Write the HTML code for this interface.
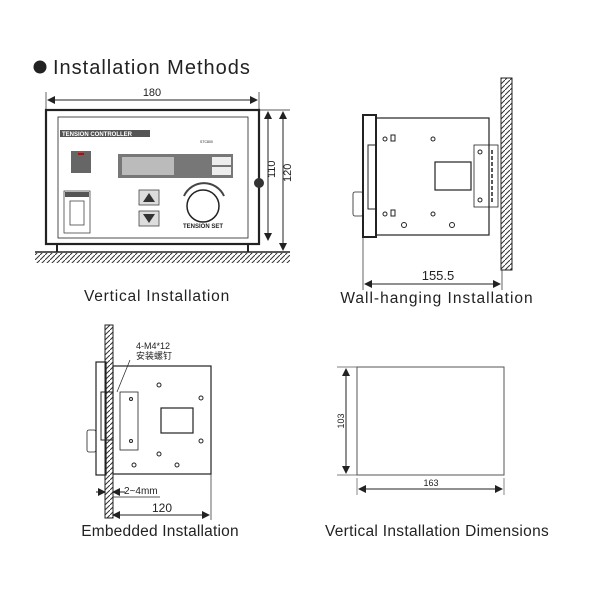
<!DOCTYPE html><html><head><style>body{margin:0;background:#fff}svg{display:block}text{font-family:"Liberation Sans","Noto Sans CJK SC",sans-serif;fill:#222}.l{font-size:15.5px;letter-spacing:.6px}</style></head><body>
<svg width="600" height="600" viewBox="0 0 600 600" xmlns="http://www.w3.org/2000/svg">
<defs>
<marker id="a" markerWidth="8" markerHeight="8" refX="7" refY="4" orient="auto-start-reverse" markerUnits="userSpaceOnUse"><path d="M0,0L8,4L0,8z" fill="#222"/></marker>
<pattern id="h" width="5" height="5" patternUnits="userSpaceOnUse"><path d="M0,5L5,0" stroke="#333" stroke-width="1"/></pattern>
</defs>
<circle cx="40" cy="67" r="6.5" fill="#222"/>
<text x="53" y="74" font-size="20" letter-spacing="1">Installation Methods</text>
<!-- Vertical -->
<g stroke="#222" fill="none">
<line x1="46" y1="92" x2="46" y2="110" stroke-width=".7"/><line x1="259" y1="92" x2="259" y2="110" stroke-width=".7"/>
<line x1="48" y1="100" x2="257" y2="100" marker-start="url(#a)" marker-end="url(#a)"/>
<line x1="259" y1="110" x2="290" y2="110" stroke-width=".7"/>
<line x1="268" y1="112" x2="268" y2="240" marker-start="url(#a)" marker-end="url(#a)"/>
<line x1="283" y1="112" x2="283" y2="250" marker-start="url(#a)" marker-end="url(#a)"/>
<rect x="46" y="110" width="213" height="134" stroke-width="2.2"/>
<rect x="58" y="117" width="190" height="121" stroke-width=".8"/>
<line x1="57" y1="244" x2="57" y2="252" stroke-width="2"/><line x1="248" y1="244" x2="248" y2="252" stroke-width="2"/>
<line x1="35" y1="252" x2="290" y2="252" stroke-width="1.5"/>
</g>
<rect x="35" y="253" width="255" height="10" fill="url(#h)"/>
<rect x="60" y="130" width="90" height="7" fill="#555"/>
<text x="62" y="136" font-size="6" font-weight="bold" style="fill:#fff">TENSION CONTROLLER</text>
<text x="200" y="143" font-size="3.5">STC800</text>
<rect x="71" y="151" width="20" height="22" fill="#666"/><rect x="78" y="153" width="6" height="2" fill="#c00"/>
<rect x="118" y="154" width="115" height="24" fill="#777"/><rect x="122" y="157" width="52" height="18" fill="#bbb"/>
<rect x="212" y="157" width="19" height="8" fill="#eee"/><rect x="212" y="167" width="19" height="8" fill="#eee"/>
<rect x="64" y="191" width="26" height="42" fill="none" stroke="#444" stroke-width=".8"/><rect x="65" y="192" width="24" height="5" fill="#555"/>
<rect x="70" y="201" width="14" height="24" fill="none" stroke="#444" stroke-width=".8"/>
<rect x="139" y="190" width="20" height="15" fill="#ddd" stroke="#444" stroke-width=".8"/><path d="M149,193L143,202L155,202z" fill="#333"/>
<rect x="139" y="211" width="20" height="15" fill="#ddd" stroke="#444" stroke-width=".8"/><path d="M149,223L143,214L155,214z" fill="#333"/>
<circle cx="203" cy="206" r="16" fill="none" stroke="#222" stroke-width="1.5"/>
<path d="M184,196A22,22 0 0 1 224,196" fill="none" stroke="#444" stroke-width="2"/>
<text x="203" y="228" font-size="6" font-weight="bold" text-anchor="middle">TENSION SET</text>
<circle cx="259" cy="183" r="5" fill="#333"/>
<text x="275" y="178" font-size="11" transform="rotate(-90 275 178)">110</text>
<text x="291" y="182" font-size="11" transform="rotate(-90 291 182)">120</text>
<text x="152" y="96" font-size="11" text-anchor="middle">180</text>
<text x="157" y="301" class="l" text-anchor="middle" style="letter-spacing:.8px">Vertical Installation</text>
<!-- Wall -->
<rect x="501" y="78" width="11" height="192" fill="url(#h)" stroke="#222" stroke-width="1"/>
<g stroke="#222" fill="none">
<rect x="363" y="115" width="13" height="122" stroke-width="2"/>
<rect x="376" y="118" width="113" height="117" stroke-width="1.2"/>
<rect x="368" y="145" width="8" height="64" stroke-width="1"/>
<rect x="353" y="192" width="10" height="24" rx="2" stroke-width=".8"/>
<rect x="435" y="162" width="36" height="28" stroke-width="1.2"/>
<rect x="474" y="145" width="24" height="62" stroke-width=".8"/>
<line x1="492" y1="150" x2="492" y2="202" stroke-dasharray="4 2" stroke-width="1.5"/>
<line x1="363" y1="238" x2="363" y2="290" stroke-width=".7"/><line x1="502" y1="270" x2="502" y2="290" stroke-width=".7"/>
<line x1="365" y1="284" x2="500" y2="284" marker-start="url(#a)" marker-end="url(#a)"/>
<circle cx="385" cy="139" r="2"/><circle cx="433" cy="139" r="2"/><circle cx="385" cy="214" r="2"/><circle cx="433" cy="214" r="2"/>
<circle cx="404" cy="225" r="2.5"/><circle cx="452" cy="225" r="2.5"/><circle cx="480" cy="152" r="2"/><circle cx="480" cy="200" r="2"/>
<rect x="391" y="135" width="4" height="6"/><rect x="391" y="210" width="4" height="6"/>
</g>
<text x="438" y="280" font-size="13" text-anchor="middle">155.5</text>
<text x="437" y="303" class="l" text-anchor="middle" style="letter-spacing:1px">Wall-hanging Installation</text>
<!-- Embedded -->
<rect x="105" y="325" width="8" height="193" fill="url(#h)" stroke="#222" stroke-width="1"/>
<g stroke="#222" fill="none">
<rect x="96" y="362" width="10" height="113" stroke-width="1.2"/>
<rect x="113" y="366" width="98" height="108" stroke-width="1.2"/>
<rect x="101" y="392" width="12" height="48" stroke-width="1"/>
<rect x="87" y="430" width="9" height="22" rx="2" stroke-width=".8"/>
<rect x="120" y="392" width="18" height="58" stroke-width=".8"/>
<rect x="161" y="408" width="32" height="25" stroke-width="1.2"/>
<circle cx="159" cy="385" r="2"/><circle cx="159" cy="454" r="2"/><circle cx="201" cy="398" r="2"/><circle cx="201" cy="441" r="2"/>
<circle cx="134" cy="465" r="2"/><circle cx="177" cy="465" r="2"/><circle cx="131" cy="399" r="1.5"/><circle cx="131" cy="441" r="1.5"/>
<line x1="130" y1="360" x2="117" y2="392" stroke-width=".7"/>
<line x1="96" y1="492" x2="105" y2="492" marker-end="url(#a)"/><line x1="125" y1="492" x2="113" y2="492" marker-end="url(#a)"/>
<line x1="113" y1="497" x2="160" y2="497" stroke-width=".7"/>
<line x1="211" y1="474" x2="211" y2="520" stroke-width=".7"/>
<line x1="113" y1="515" x2="209" y2="515" marker-start="url(#a)" marker-end="url(#a)"/>
</g>
<text x="136" y="349" font-size="9">4-M4*12</text>
<text x="136" y="359" font-size="9">安装螺钉</text>
<text x="124" y="494" font-size="10">2~4mm</text>
<text x="162" y="512" font-size="12" text-anchor="middle">120</text>
<text x="160" y="536" class="l" text-anchor="middle" style="letter-spacing:.2px">Embedded Installation</text>
<!-- Dimensions -->
<g stroke="#555" fill="none">
<rect x="357" y="367" width="147" height="108" stroke-width="1"/>
<line x1="337" y1="367" x2="357" y2="367" stroke-width=".7"/><line x1="337" y1="475" x2="357" y2="475" stroke-width=".7"/>
<line x1="346" y1="369" x2="346" y2="473" stroke="#222" marker-start="url(#a)" marker-end="url(#a)"/>
<line x1="357" y1="478" x2="357" y2="495" stroke-width=".7"/><line x1="504" y1="478" x2="504" y2="495" stroke-width=".7"/>
<line x1="359" y1="489" x2="502" y2="489" stroke="#222" marker-start="url(#a)" marker-end="url(#a)"/>
</g>
<text x="344" y="421" font-size="9" text-anchor="middle" transform="rotate(-90 344 421)">103</text>
<text x="431" y="486" font-size="9" text-anchor="middle">163</text>
<text x="437" y="536" class="l" text-anchor="middle" style="letter-spacing:.3px">Vertical Installation Dimensions</text>
</svg></body></html>
